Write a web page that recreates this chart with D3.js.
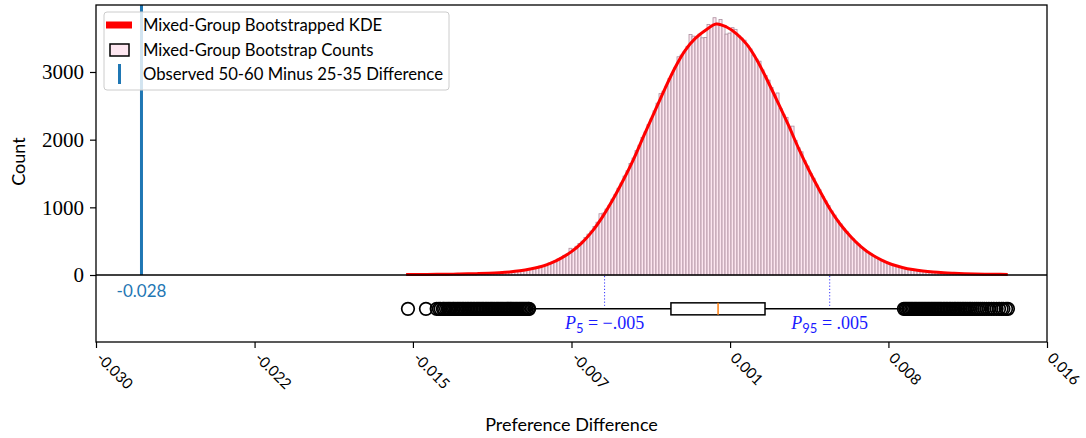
<!DOCTYPE html>
<html>
<head>
<meta charset="utf-8">
<script src="https://cdn.jsdelivr.net/npm/d3@7"></script>
<style>
  body { margin: 0; background: #fff; }
  svg { display: block; }
</style>
</head>
<body>
<svg id="chart" width="1086" height="438"></svg>
<script>
// ---- data ----------------------------------------------------------------
// histogram of bootstrapped differences: 200 equal bins over this range
const binRange = [-0.01496, 0.01407];
const binCounts = [
  5, 7, 6, 8, 7, 9, 7, 10, 8, 11,
  9, 11, 12, 10, 13, 14, 12, 16, 15, 18,
  17, 20, 19, 22, 23, 22, 27, 26, 30, 33,
  36, 35, 42, 43, 49, 50, 57, 61, 64, 77,
  88, 93, 108, 114, 133, 140, 160, 178, 192, 215,
  236, 257, 292, 311, 395, 381, 425, 466, 500, 556,
  604, 650, 718, 780, 905, 915, 975, 1030, 1121, 1190,
  1282, 1358, 1462, 1540, 1648, 1728, 1838, 1918, 2032, 2114,
  2222, 2306, 2425, 2540, 2680, 2716, 2790, 2905, 2968, 3070,
  3225, 3250, 3300, 3380, 3555, 3530, 3510, 3560, 3505, 3510,
  3703, 3680, 3802, 3720, 3777, 3690, 3560, 3575, 3655, 3630,
  3540, 3500, 3470, 3390, 3340, 3250, 3190, 3160, 3030, 2950,
  2880, 2770, 2660, 2690, 2460, 2370, 2330, 2190, 2200, 1990,
  1880, 1820, 1690, 1610, 1500, 1430, 1330, 1260, 1160, 1095,
  1025, 945, 885, 805, 755, 690, 645, 580, 540, 490,
  455, 405, 378, 336, 312, 282, 262, 231, 218, 192,
  170, 160, 139, 130, 113, 107, 92, 88, 76, 72,
  66, 58, 57, 50, 49, 43, 44, 37, 38, 32,
  31, 27, 27, 24, 25, 21, 22, 19, 20, 16,
  14, 15, 12, 13, 11, 12, 9, 11, 8, 9
];

// kernel density estimate, scaled to counts
const kdeX = [
  -0.0150, -0.0145, -0.0140, -0.0135, -0.0130, -0.0125, -0.0120, -0.0115, -0.0110, -0.0105,
  -0.0100, -0.0095, -0.0090, -0.0085, -0.0080, -0.0075, -0.0070, -0.0065, -0.0060, -0.0055,
  -0.0050, -0.0045, -0.0040, -0.0035, -0.0030, -0.0025, -0.0020, -0.0015, -0.0010, -0.0005,
   0.0000,  0.0005,  0.0010,  0.0015,  0.0020,  0.0025,  0.0030,  0.0035,  0.0040,  0.0045,
   0.0050,  0.0055,  0.0060,  0.0065,  0.0070,  0.0075,  0.0080,  0.0085,  0.0090,  0.0095,
   0.0100,  0.0105,  0.0110,  0.0115,  0.0120,  0.0125,  0.0130,  0.0135,  0.0141
];
const kdeY = [
  7, 8, 9, 10, 12, 14, 17, 21, 27, 35,
  46, 63, 88, 122, 175, 250, 345, 475, 645, 860,
  1115, 1400, 1710, 2060, 2400, 2740, 3060, 3320, 3500, 3620,
  3710, 3665, 3560, 3400, 3160, 2860, 2540, 2210, 1860, 1540,
  1250, 975, 750, 570, 420, 305, 220, 155, 112, 80,
  58, 43, 33, 26, 20, 16, 13, 11, 9
];

// box plot summary: [lower whisker, Q1, median, Q3, upper whisker]
const boxSummary = [-0.00900, -0.00219, 0.00009, 0.00236, 0.00905];
const fliersLow = [
  -0.01491, -0.01404, -0.01352, -0.01341, -0.01333, -0.01322, -0.01316, -0.01307, -0.01298, -0.01291,
  -0.01283, -0.01274, -0.01268, -0.01259, -0.01251, -0.01244, -0.01236, -0.01228, -0.01221, -0.01213,
  -0.01205, -0.01198, -0.01190, -0.01183, -0.01175, -0.01168, -0.01160, -0.01153, -0.01146, -0.01138,
  -0.01131, -0.01124, -0.01116, -0.01109, -0.01102, -0.01094, -0.01087, -0.01080, -0.01073, -0.01065,
  -0.01058, -0.01051, -0.01044, -0.01037, -0.01030, -0.01022, -0.01015, -0.01008, -0.01001, -0.00994,
  -0.00987, -0.00980, -0.00973, -0.00966, -0.00959, -0.00952, -0.00945, -0.00938, -0.00931, -0.00924,
  -0.00917, -0.00910, -0.00905
];
const fliersHigh = [
  0.00908, 0.00915, 0.00922, 0.00929, 0.00936, 0.00943, 0.00950, 0.00957, 0.00964, 0.00971,
  0.00978, 0.00985, 0.00992, 0.00999, 0.01006, 0.01013, 0.01020, 0.01027, 0.01034, 0.01041,
  0.01048, 0.01055, 0.01062, 0.01069, 0.01076, 0.01083, 0.01090, 0.01098, 0.01105, 0.01113,
  0.01120, 0.01128, 0.01135, 0.01143, 0.01151, 0.01158, 0.01166, 0.01174, 0.01182, 0.01190,
  0.01198, 0.01206, 0.01214, 0.01223, 0.01231, 0.01240, 0.01249, 0.01258, 0.01267, 0.01277,
  0.01287, 0.01297, 0.01308, 0.01319, 0.01331, 0.01343, 0.01356, 0.01368, 0.01380, 0.01389,
  0.01402, 0.01411
];

// 5th / 95th percentiles of the bootstrap distribution
const percentileNames = ["5", "95"];
const percentileValues = [-0.0054, 0.00549];

// observed difference between the age groups
const observedDiff = [-0.0278];

// axes
const xTickValues = [-0.030, -0.02233, -0.01467, -0.007, 0.00067, 0.00833, 0.016];
const xTickLabels = ["-0.030", "-0.022", "-0.015", "-0.007", "0.001", "0.008", "0.016"];
const yTickValues = [0, 1000, 2000, 3000];

const legendLabels = [
  "Mixed-Group Bootstrapped KDE",
  "Mixed-Group Bootstrap Counts",
  "Observed 50-60 Minus 25-35 Difference"
];

// ---- layout ----------------------------------------------------------------
const plot = { left: 96, right: 1047, top: 5, bottom: 342 };
const SANS = "Lato, 'Open Sans', sans-serif";
const SERIF = "'Liberation Serif', 'DejaVu Serif', serif";
const boxLevel = -500;       // count level the box plot sits on
const boxHalf = 6;           // half height of the box, px

const svg = d3.select("#chart");

const x = d3.scaleLinear().domain([-0.030, 0.016]).range([plot.left, plot.right]);
const y = d3.scaleLinear().domain([-990, 3990]).range([plot.bottom, plot.top]);

svg.append("defs").append("clipPath").attr("id", "plotclip")
  .append("rect")
  .attr("x", plot.left).attr("y", plot.top)
  .attr("width", plot.right - plot.left).attr("height", plot.bottom - plot.top);

const g = svg.append("g").attr("clip-path", "url(#plotclip)");

// histogram bars
const nBins = binCounts.length;
const edges = d3.range(nBins + 1).map(i => binRange[0] + (binRange[1] - binRange[0]) * i / nBins);
g.append("g").selectAll("rect")
  .data(binCounts)
  .join("rect")
  .attr("x", (d, i) => x(edges[i]))
  .attr("width", (d, i) => x(edges[i + 1]) - x(edges[i]))
  .attr("y", d => y(d))
  .attr("height", d => y(0) - y(d))
  .attr("fill", "#fde6f0")
  .attr("stroke", "#aa8c9c")
  .attr("stroke-width", 0.8);

// KDE curve
g.append("path")
  .datum(d3.zip(kdeX, kdeY))
  .attr("d", d3.line().x(d => x(d[0])).y(d => y(d[1])).curve(d3.curveCatmullRom))
  .attr("fill", "none")
  .attr("stroke", "#ff0000")
  .attr("stroke-width", 3)
  .attr("stroke-linejoin", "round");

// observed difference
g.selectAll("line.obs")
  .data(observedDiff)
  .join("line")
  .attr("class", "obs")
  .attr("x1", d => x(d)).attr("x2", d => x(d))
  .attr("y1", y(0)).attr("y2", plot.top)
  .attr("stroke", "#1f77b4")
  .attr("stroke-width", 3);

svg.selectAll("text.obs")
  .data(observedDiff)
  .join("text")
  .attr("class", "obs")
  .attr("x", d => x(d))
  .attr("y", y(0) + 22)
  .attr("text-anchor", "middle")
  .attr("fill", "#1f77b4")
  .style("font-family", SANS)
  .style("font-size", "17px")
  .text(d => d.toFixed(3));

// zero baseline
g.append("line")
  .attr("x1", plot.left).attr("x2", plot.right)
  .attr("y1", y(0)).attr("y2", y(0))
  .attr("stroke", "#000")
  .attr("stroke-width", 1.6);

// percentile markers
const pctFmt = v => (v < 0 ? "\u2212" : "") + Math.abs(v).toFixed(3).replace(/^0/, "");
const by = y(boxLevel);
g.selectAll("line.pct")
  .data(percentileValues)
  .join("line")
  .attr("class", "pct")
  .attr("x1", d => x(d)).attr("x2", d => x(d))
  .attr("y1", y(0) + 1).attr("y2", by - 3)
  .attr("stroke", "#3030ff")
  .attr("stroke-width", 1)
  .attr("stroke-dasharray", "1.2,2");

// box plot
const [wLo, q1, med, q3, wHi] = boxSummary;
const bp = g.append("g").attr("stroke", "#000").attr("stroke-width", 1.5);
bp.append("line").attr("x1", x(wLo)).attr("x2", x(q1)).attr("y1", by).attr("y2", by);
bp.append("line").attr("x1", x(q3)).attr("x2", x(wHi)).attr("y1", by).attr("y2", by);
bp.append("line").attr("x1", x(wLo)).attr("x2", x(wLo)).attr("y1", by - boxHalf / 2).attr("y2", by + boxHalf / 2);
bp.append("line").attr("x1", x(wHi)).attr("x2", x(wHi)).attr("y1", by - boxHalf / 2).attr("y2", by + boxHalf / 2);
bp.append("rect")
  .attr("x", x(q1)).attr("y", by - boxHalf)
  .attr("width", x(q3) - x(q1)).attr("height", boxHalf * 2)
  .attr("fill", "#fff");
bp.append("line")
  .attr("x1", x(med)).attr("x2", x(med))
  .attr("y1", by - boxHalf).attr("y2", by + boxHalf)
  .attr("stroke", "#ff7f0e");

g.append("g").selectAll("circle")
  .data(fliersLow.concat(fliersHigh))
  .join("circle")
  .attr("cx", d => x(d))
  .attr("cy", by)
  .attr("r", 6.3)
  .attr("fill", "none")
  .attr("stroke", "#000")
  .attr("stroke-width", 1.7);

// percentile labels
percentileValues.forEach((v, i) => {
  const t = svg.append("text")
    .attr("x", x(v)).attr("y", by + 20)
    .attr("text-anchor", "middle")
    .attr("fill", "#1a1aff")
    .style("font-family", SERIF)
    .style("font-size", "18px");
  t.append("tspan").style("font-style", "italic").text("P");
  t.append("tspan").attr("dy", 4).style("font-size", "13px").style("font-family", SANS).text(percentileNames[i]);
  t.append("tspan").attr("dy", -4).text(" = " + pctFmt(v));
});

// frame
svg.append("rect")
  .attr("x", plot.left).attr("y", plot.top)
  .attr("width", plot.right - plot.left).attr("height", plot.bottom - plot.top)
  .attr("fill", "none")
  .attr("stroke", "#000")
  .attr("stroke-width", 1.3);

// x axis
const xAxis = svg.append("g")
  .attr("transform", `translate(0,${plot.bottom})`)
  .call(d3.axisBottom(x).tickValues(xTickValues).tickFormat((d, i) => xTickLabels[i]).tickSize(6).tickSizeOuter(0));
xAxis.select(".domain").remove();
xAxis.selectAll(".tick line").attr("stroke-width", 1.2);
xAxis.selectAll(".tick text")
  .attr("x", 0).attr("y", 0).attr("dy", 0)
  .attr("text-anchor", "start")
  .attr("transform", "translate(-1,17) rotate(45)")
  .style("font-family", SANS)
  .style("font-size", "15px")
  .attr("fill", "#000");

// y axis
const yAxis = svg.append("g")
  .attr("transform", `translate(${plot.left},0)`)
  .call(d3.axisLeft(y).tickValues(yTickValues).tickFormat(d3.format("d")).tickSize(6).tickSizeOuter(0));
yAxis.select(".domain").remove();
yAxis.selectAll(".tick line").attr("stroke-width", 1.2);
yAxis.selectAll(".tick text")
  .attr("x", -12)
  .style("font-family", SERIF)
  .style("font-size", "21px")
  .attr("fill", "#000");

// axis titles
svg.append("text")
  .attr("x", (plot.left + plot.right) / 2).attr("y", 431)
  .attr("text-anchor", "middle")
  .style("font-family", SANS).style("font-size", "18px")
  .text("Preference Difference");
svg.append("text")
  .attr("transform", `translate(25,${(plot.top + plot.bottom) / 2 - 12}) rotate(-90)`)
  .attr("text-anchor", "middle")
  .style("font-family", SANS).style("font-size", "18px")
  .text("Count");

// legend
const lg = svg.append("g").attr("transform", "translate(104,12)");
lg.append("rect")
  .attr("width", 345).attr("height", 78).attr("rx", 3)
  .attr("fill", "#fff").attr("fill-opacity", 0.8)
  .attr("stroke", "#cccccc").attr("stroke-width", 1);
const rowY = [13, 38, 62];
lg.append("rect").attr("x", 2).attr("y", rowY[0] - 3.5).attr("width", 26).attr("height", 7).attr("fill", "#ff0000");
lg.append("rect").attr("x", 6).attr("y", rowY[1] - 6).attr("width", 19).attr("height", 12)
  .attr("fill", "#fde6f0").attr("stroke", "#000").attr("stroke-width", 1.5);
lg.append("line").attr("x1", 15.5).attr("x2", 15.5).attr("y1", rowY[2] - 10).attr("y2", rowY[2] + 10)
  .attr("stroke", "#1f77b4").attr("stroke-width", 3);
lg.selectAll("text.lab")
  .data(legendLabels)
  .join("text")
  .attr("class", "lab")
  .attr("x", 39)
  .attr("y", (d, i) => rowY[i] + 6)
  .style("font-family", SANS)
  .style("font-size", "16.7px")
  .text(d => d);
</script>
</body>
</html>
